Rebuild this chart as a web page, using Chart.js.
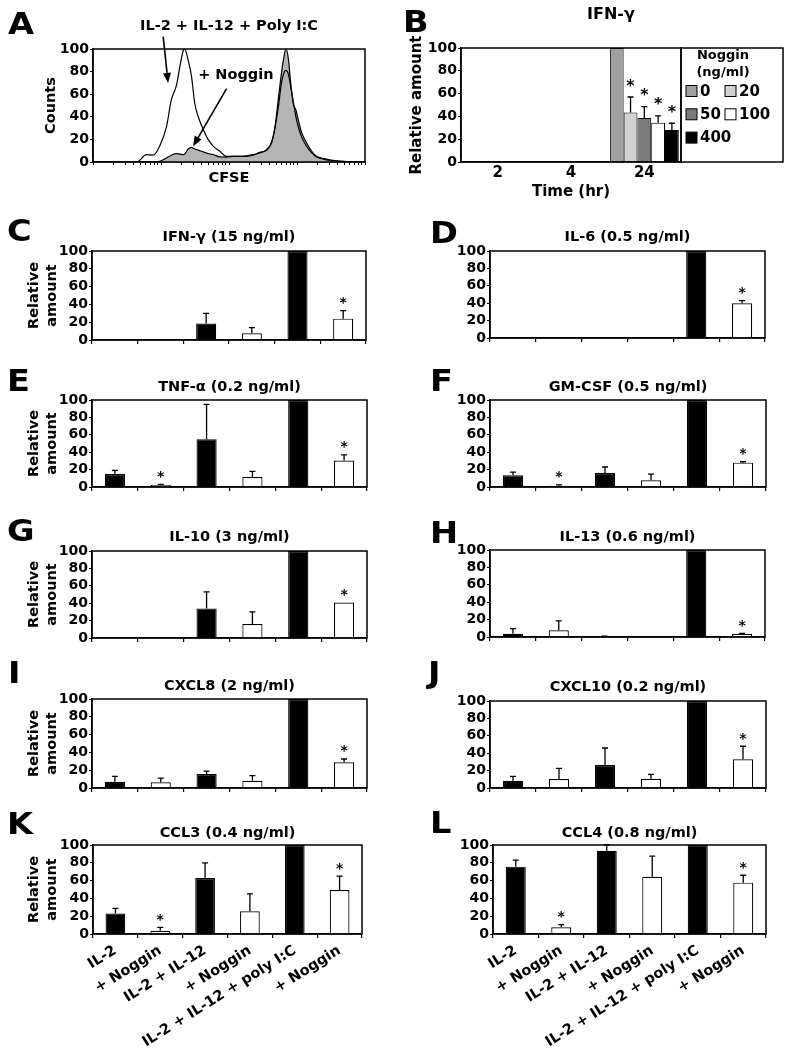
<!DOCTYPE html>
<html>
<head>
<meta charset="utf-8">
<script src="https://cdn.jsdelivr.net/npm/chart.js@4.4.1/dist/chart.umd.min.js"></script>
<style>
html, body { margin: 0; padding: 0; background: #fff; }
#fig { position: relative; width: 786px; height: 1048px; overflow: hidden; font-family: 'DejaVu Sans', sans-serif; }
.letter { position: absolute; font-weight: bold; font-size: 30px; line-height: 30px; color: #000; transform: scaleX(1.12); transform-origin: 0 0; }
</style>
</head>
<body>
<div id="fig"></div>
<script>
// ---- Panel A: CFSE histogram (x = channel, y = % of max) ----
const cfseChannel = [0, 150, 166, 196, 221, 245, 270, 288, 307, 319, 331, 337, 350, 362, 374, 387, 405, 423, 442, 466,
  491, 515, 540, 564, 589, 613, 638, 656, 669, 681, 693, 702, 709, 718, 726, 736, 746, 755, 767, 785,
  804, 822, 847, 871, 896, 933, 1000];
const countsPolyIC = [0, 0, 0.5, 6.5, 6, 14, 31, 55, 68, 84, 98, 100, 90, 76, 52, 40, 29, 20, 14, 9.5,
  5, 5, 5, 5.5, 6.5, 8, 11, 17, 30, 48, 70, 79, 81, 78, 68, 54, 40, 31, 22, 14,
  8, 4.5, 2.6, 1.5, 1, 0.3, 0];
const countsNoggin = [0, 0, 0, 0, 0, 0.5, 3.5, 6, 7.4, 7, 6.5, 7, 11.5, 13, 11.5, 10.5, 9, 7.5, 6.5, 4.5,
  4.4, 5, 5, 5, 6, 8.5, 10.3, 17, 31, 55, 79, 93, 100, 92, 72, 52, 46, 37, 26, 17,
  9.5, 5, 3.2, 2, 0.9, 0.3, 0];
// annotation anchors, in data units (channel, counts)
const arrowPolyIC = { from: [258, 111], to: [276, 70] };
const arrowNoggin = { from: [491, 65], to: [368, 14] };
const nogginNote = [525, 77];

// ---- Panel B: IFN-γ vs Noggin dose ----
const timeLabels = ['2', '4', '24'];
const nogginDoses = ['0', '20', '50', '100', '400'];
const doseFill = ['#a0a0a0', '#d2d2d2', '#7a7a7a', '#ffffff', '#000000'];
const ifngDoseMean = [100, 43.5, 38.5, 34.5, 28];
const ifngDoseSd = [0, 13.5, 10, 6, 6];
const ifngDoseStar = [0, 1, 1, 1, 1];

// ---- Panels C–L ----
const conditions = ['IL-2', '+ Noggin', 'IL-2 + IL-12', '+ Noggin', 'IL-2 + IL-12 + poly I:C', '+ Noggin'];
const conditionFill = ['#000000', '#ffffff', '#000000', '#ffffff', '#000000', '#ffffff'];

const ifngMean = [0.3, 0.3, 18.5, 7.5, 100, 24];
const ifngSd = [0, 0, 11.5, 6.5, 0, 9];
const ifngStar = [0, 0, 0, 0, 0, 1];
const il6Mean = [0.3, 0.3, 0.3, 0.3, 100, 40];
const il6Sd = [0, 0, 0, 0, 0, 3];
const il6Star = [0, 0, 0, 0, 0, 1];
const tnfMean = [15, 2.3, 55, 11.5, 100, 30.5];
const tnfSd = [4, 0.7, 40, 6.5, 0, 6.5];
const tnfStar = [0, 1, 0, 0, 0, 1];
const gmcsfMean = [13.5, 1.5, 16, 7.7, 100, 28];
const gmcsfSd = [3.5, 1, 7, 7, 0, 1];
const gmcsfStar = [0, 1, 0, 0, 0, 1];
const il10Mean = [0.3, 0.3, 34, 16, 100, 40.7];
const il10Sd = [0, 0, 19, 14, 0, 0];
const il10Star = [0, 0, 0, 0, 0, 1];
const il13Mean = [3.8, 7.7, 0.5, 0, 100, 3.8];
const il13Sd = [5.8, 10.8, 0.5, 0, 0, 0.3];
const il13Star = [0, 0, 0, 0, 0, 1];
const cxcl8Mean = [7, 6.4, 15.7, 8.2, 100, 29];
const cxcl8Sd = [6, 4.6, 3.3, 5.8, 0, 3.6];
const cxcl8Star = [0, 0, 0, 0, 0, 1];
const cxcl10Mean = [8.4, 10.3, 26.3, 10.7, 100, 33];
const cxcl10Sd = [5, 12.2, 19.7, 4.9, 0, 15];
const cxcl10Star = [0, 0, 0, 0, 0, 1];
const ccl3Mean = [23, 3.7, 63, 25.5, 100, 49.4];
const ccl3Sd = [5.8, 3.8, 17, 19.5, 0, 15.6];
const ccl3Star = [0, 1, 0, 0, 0, 1];
const ccl4Mean = [75.7, 7.5, 93.6, 64.4, 100, 57.7];
const ccl4Sd = [7.3, 3, 6.4, 23.2, 0, 8.3];
const ccl4Star = [0, 1, 0, 0, 0, 1];

const FONT = "'DejaVu Sans', sans-serif";
Chart.defaults.font.family = FONT;
Chart.defaults.font.weight = 'bold';
Chart.defaults.color = '#000';

const fig = document.getElementById('fig');

function addCanvas(left, top, width, height) {
    const c = document.createElement('canvas');
    c.width = width;
    c.height = height;
    c.style.cssText = `position:absolute;left:${left}px;top:${top}px;width:${width}px;height:${height}px`;
    fig.appendChild(c);
    return c;
}

// box round the plot area
const plotFrame = {
    id: 'plotFrame',
    afterDatasetsDraw(chart) {
        const a = chart.chartArea, ctx = chart.ctx;
        ctx.save();
        ctx.strokeStyle = '#000';
        ctx.lineWidth = 1.5;
        ctx.strokeRect(a.left, a.top, a.right - a.left, a.bottom - a.top);
        ctx.restore();
    }
};

// upper error bars + asterisks, read from dataset.sd / dataset.star
const errorBars = {
    id: 'errorBars',
    afterDatasetsDraw(chart, args, opts) {
        const ctx = chart.ctx, y = chart.scales.y;
        ctx.save();
        ctx.strokeStyle = '#000';
        ctx.fillStyle = '#000';
        ctx.lineWidth = 1.3;
        ctx.font = `bold ${opts.starSize || 14}px ${FONT}`;
        ctx.textAlign = 'center';
        ctx.textBaseline = 'alphabetic';
        chart.data.datasets.forEach((ds, di) => {
            const meta = chart.getDatasetMeta(di);
            meta.data.forEach((bar, i) => {
                const v = ds.data[i];
                if (v == null) return;
                const sd = (ds.sd && ds.sd[i]) || 0;
                const topPx = y.getPixelForValue(v + sd);
                if (sd > 0) {
                    ctx.beginPath();
                    ctx.moveTo(bar.x, bar.y);
                    ctx.lineTo(bar.x, topPx);
                    ctx.moveTo(bar.x - 3, topPx);
                    ctx.lineTo(bar.x + 3, topPx);
                    ctx.stroke();
                }
                if (ds.star && ds.star[i]) {
                    ctx.fillText('*', bar.x, topPx - (opts.starGap || 3.5));
                }
            });
        });
        ctx.restore();
    }
};

function drawArrow(ctx, x1, y1, x2, y2) {
    const ang = Math.atan2(y2 - y1, x2 - x1);
    const len = 10, half = 4;
    const bx = x2 - len * Math.cos(ang), by = y2 - len * Math.sin(ang);
    ctx.beginPath();
    ctx.moveTo(x1, y1);
    ctx.lineTo(bx, by);
    ctx.stroke();
    ctx.beginPath();
    ctx.moveTo(x2, y2);
    ctx.lineTo(bx + half * Math.sin(ang), by - half * Math.cos(ang));
    ctx.lineTo(bx - half * Math.sin(ang), by + half * Math.cos(ang));
    ctx.closePath();
    ctx.fill();
}

const histNotes = {
    id: 'histNotes',
    afterDraw(chart) {
        const { ctx, scales: { x, y } } = chart;
        ctx.save();
        ctx.strokeStyle = '#000';
        ctx.fillStyle = '#000';
        ctx.lineWidth = 1.6;
        [arrowPolyIC, arrowNoggin].forEach(a => {
            drawArrow(ctx, x.getPixelForValue(a.from[0]), y.getPixelForValue(a.from[1]),
                x.getPixelForValue(a.to[0]), y.getPixelForValue(a.to[1]));
        });
        ctx.font = `bold 14.5px ${FONT}`;
        ctx.textAlign = 'center';
        ctx.textBaseline = 'middle';
        ctx.fillText('+ Noggin', x.getPixelForValue(nogginNote[0]), y.getPixelForValue(nogginNote[1]));
        ctx.restore();
    }
};

const yTicks = { stepSize: 20, autoSkip: false, padding: 1, font: { size: 14, weight: 'bold' } };
const textFont = { size: 14.5, weight: 'bold', lineHeight: '18px' };

// ---- A ----
(function () {
    const canvas = addCanvas(0, 11, 393, 184);
    new Chart(canvas, {
        type: 'line',
        data: {
            datasets: [
                {
                    label: 'IL-2 + IL-12 + Poly I:C',
                    data: cfseChannel.map((c, i) => ({ x: c, y: countsPolyIC[i] })),
                    borderColor: '#000',
                    borderWidth: 1.2,
                    fill: false,
                    pointRadius: 0,
                    cubicInterpolationMode: 'monotone'
                },
                {
                    label: '+ Noggin',
                    data: cfseChannel.map((c, i) => ({ x: c, y: countsNoggin[i] })),
                    borderColor: '#000',
                    borderWidth: 1.2,
                    backgroundColor: '#b4b4b4',
                    fill: 'origin',
                    pointRadius: 0,
                    cubicInterpolationMode: 'monotone'
                }
            ]
        },
        options: {
            responsive: false,
            animation: false,
            devicePixelRatio: 1,
            layout: { padding: { left: 0, right: 28, top: 0, bottom: 0 } },
            plugins: {
                legend: { display: false },
                tooltip: { enabled: false },
                title: {
                    display: true, fullSize: false, text: 'IL-2 + IL-12 + Poly I:C', color: '#000',
                    font: textFont,
                    padding: { top: 6, bottom: 14 }
                }
            },
            scales: {
                x: {
                    type: 'linear', min: 0, max: 1000,
                    afterBuildTicks: s => {
                        const t = [];
                        for (let d = 0; d < 4; d++) {
                            for (let m = 1; m < 10; m++) t.push({ value: 250 * (d + Math.log10(m)) });
                        }
                        t.push({ value: 1000 });
                        s.ticks = t;
                    },
                    ticks: { callback: () => '', autoSkip: false },
                    grid: { drawOnChartArea: false, tickLength: 3, color: '#000' },
                    border: { color: '#000', width: 1.5 },
                    title: {
                        display: true, text: 'CFSE', color: '#000',
                        font: textFont,
                        padding: { top: 0, bottom: 8 }
                    },
                    afterFit: s => { s.height = 33; }
                },
                y: {
                    min: 0, max: 100,
                    ticks: yTicks,
                    grid: { drawOnChartArea: false, tickLength: 3, color: '#000' },
                    border: { color: '#000', width: 1.5 },
                    title: {
                        display: true, text: 'Counts', color: '#000',
                        font: textFont,
                        padding: { top: 42, bottom: 0 }
                    },
                    afterFit: s => { s.width = 93; }
                }
            }
        },
        plugins: [plotFrame, histNotes]
    });
})();

// ---- B ----
const doseLegend = {
    id: 'doseLegend',
    afterDraw(chart) {
        const { ctx, chartArea: a } = chart;
        const x0 = a.right, w = 102;
        ctx.save();
        ctx.strokeStyle = '#000';
        ctx.lineWidth = 1.5;
        ctx.strokeRect(x0, a.top, w, a.bottom - a.top);
        ctx.fillStyle = '#000';
        ctx.textAlign = 'center';
        ctx.textBaseline = 'middle';
        ctx.font = `bold 16px ${FONT}`;
        ctx.fillText('IFN-γ', a.left + 150, 15);
        ctx.font = `bold 13px ${FONT}`;
        ctx.fillText('Noggin', x0 + 42, a.top + 8);
        ctx.fillText('(ng/ml)', x0 + 42, a.top + 25);
        ctx.font = `bold 15px ${FONT}`;
        ctx.textAlign = 'left';
        ctx.lineWidth = 1;
        chart.data.datasets.forEach((ds, i) => {
            const col = i % 2, row = Math.floor(i / 2);
            const sx = x0 + 5 + col * 39, sy = a.top + 43 + row * 23.3;
            ctx.fillStyle = ds.backgroundColor;
            ctx.fillRect(sx, sy - 5.5, 11, 11);
            ctx.strokeRect(sx, sy - 5.5, 11, 11);
            ctx.fillStyle = '#000';
            ctx.fillText(ds.label, sx + 14, sy + 1);
        });
        ctx.restore();
    }
};

(function () {
    const canvas = addCanvas(393, 0, 393, 210);
    new Chart(canvas, {
        type: 'bar',
        data: {
            labels: timeLabels,
            datasets: nogginDoses.map((dose, k) => ({
                label: dose,
                data: timeLabels.map((t, i) => (i === timeLabels.length - 1 ? ifngDoseMean[k] : null)),
                sd: timeLabels.map((t, i) => (i === timeLabels.length - 1 ? ifngDoseSd[k] : 0)),
                star: timeLabels.map((t, i) => (i === timeLabels.length - 1 ? ifngDoseStar[k] : 0)),
                backgroundColor: doseFill[k],
                borderColor: '#000',
                borderWidth: 1,
                categoryPercentage: 0.94,
                barPercentage: 1
            }))
        },
        options: {
            responsive: false,
            animation: false,
            devicePixelRatio: 1,
            layout: { padding: { left: 0, right: 105, top: 48, bottom: 0 } },
            plugins: {
                legend: { display: false },
                tooltip: { enabled: false },
                title: { display: false },
                errorBars: { starGap: 6.5, starSize: 16 }
            },
            scales: {
                x: {
                    grid: { display: false, drawTicks: false },
                    border: { color: '#000', width: 1.5 },
                    ticks: { padding: 2, font: { size: 15, weight: 'bold' } },
                    title: {
                        display: true, text: 'Time (hr)', color: '#000',
                        font: { size: 15, weight: 'bold', lineHeight: '20px' },
                        padding: { top: 0, bottom: 8 }
                    },
                    afterFit: s => { s.height = 48; }
                },
                y: {
                    min: 0, max: 100,
                    ticks: { stepSize: 20, autoSkip: false, padding: 1, font: { size: 14, weight: 'bold' } },
                    grid: { drawOnChartArea: false, tickLength: 3, color: '#000' },
                    border: { color: '#000', width: 1.5 },
                    title: {
                        display: true, text: 'Relative amount', color: '#000',
                        font: { size: 15, weight: 'bold', lineHeight: '20px' },
                        padding: { top: 14, bottom: 0 }
                    },
                    afterFit: s => { s.width = 68; }
                }
            }
        },
        plugins: [plotFrame, errorBars, doseLegend]
    });
})();

// ---- C–L ----
const panels = [
    { letter: 'C', title: 'IFN-γ (15 ng/ml)', mean: ifngMean, sd: ifngSd, star: ifngStar, titleY: 237, box: [92, 251, 366, 340], yTitle: true },
    { letter: 'D', title: 'IL-6 (0.5 ng/ml)', mean: il6Mean, sd: il6Sd, star: il6Star, titleY: 237, box: [490, 251, 765, 338] },
    { letter: 'E', title: 'TNF-α (0.2 ng/ml)', mean: tnfMean, sd: tnfSd, star: tnfStar, titleY: 387, box: [92, 400, 367, 487], yTitle: true },
    { letter: 'F', title: 'GM-CSF (0.5 ng/ml)', mean: gmcsfMean, sd: gmcsfSd, star: gmcsfStar, titleY: 387, box: [490, 400, 766, 487] },
    { letter: 'G', title: 'IL-10 (3 ng/ml)', mean: il10Mean, sd: il10Sd, star: il10Star, titleY: 537, box: [92, 551, 367, 638], yTitle: true },
    { letter: 'H', title: 'IL-13 (0.6 ng/ml)', mean: il13Mean, sd: il13Sd, star: il13Star, titleY: 537, box: [490, 550, 765, 637] },
    { letter: 'I', title: 'CXCL8 (2 ng/ml)', mean: cxcl8Mean, sd: cxcl8Sd, star: cxcl8Star, titleY: 686, box: [92, 699, 367, 788], yTitle: true },
    { letter: 'J', title: 'CXCL10 (0.2 ng/ml)', mean: cxcl10Mean, sd: cxcl10Sd, star: cxcl10Star, titleY: 687, box: [490, 701, 766, 788] },
    { letter: 'K', title: 'CCL3 (0.4 ng/ml)', mean: ccl3Mean, sd: ccl3Sd, star: ccl3Star, titleY: 833, box: [93, 845, 362, 934], yTitle: true, labels: true },
    { letter: 'L', title: 'CCL4 (0.8 ng/ml)', mean: ccl4Mean, sd: ccl4Sd, star: ccl4Star, titleY: 833, box: [493, 845, 766, 934], labels: true }
];

panels.forEach(p => {
    const [left, top, right, bottom] = p.box;
    const colX = left < 393 ? 0 : 393;
    const cTop = p.titleY - 15;
    const xh = p.labels ? 1048 - bottom : 14;
    const cHeight = bottom + xh - cTop;
    const canvas = addCanvas(colX, cTop, 393, cHeight);
    new Chart(canvas, {
        type: 'bar',
        data: {
            labels: conditions,
            datasets: [{
                data: p.mean,
                sd: p.sd,
                star: p.star,
                backgroundColor: conditionFill,
                borderColor: '#000',
                borderWidth: 1.2,
                categoryPercentage: 1,
                barPercentage: 0.44
            }]
        },
        options: {
            responsive: false,
            animation: false,
            devicePixelRatio: 1,
            layout: { padding: { left: 0, right: colX + 393 - right, top: 0, bottom: 0 } },
            plugins: {
                legend: { display: false },
                tooltip: { enabled: false },
                title: {
                    display: true, fullSize: false, text: p.title, color: '#000',
                    font: textFont,
                    padding: { top: 6, bottom: top - p.titleY - 9 }
                },
                errorBars: { starGap: 3.5, starSize: 14 }
            },
            scales: {
                x: {
                    grid: { drawOnChartArea: false, tickLength: 4, color: '#000', lineWidth: 1.2 },
                    border: { color: '#000', width: 1.5 },
                    ticks: {
                        display: !!p.labels, autoSkip: false, minRotation: 32, maxRotation: 32, padding: 4,
                        font: { size: 14.5, weight: 'bold' }
                    },
                    afterFit: s => { s.height = xh; }
                },
                y: {
                    min: 0, max: 100,
                    ticks: yTicks,
                    grid: { drawOnChartArea: false, tickLength: 3, color: '#000' },
                    border: { color: '#000', width: 1.5 },
                    title: {
                        display: !!p.yTitle, text: ['Relative', 'amount'], color: '#000',
                        font: textFont,
                        padding: { top: 25, bottom: 0 }
                    },
                    afterFit: s => { s.width = left - colX; }
                }
            }
        },
        plugins: [plotFrame, errorBars]
    });
});

// panel letters
const letterPos = [
    ['A', 8, 9], ['B', 403, 7], ['C', 7, 216], ['D', 430, 218], ['E', 7, 366], ['F', 430, 366],
    ['G', 7, 516], ['H', 430, 518], ['I', 8, 658], ['J', 428, 658], ['K', 7, 809], ['L', 430, 808]
];
letterPos.forEach(([t, x, y]) => {
    const d = document.createElement('div');
    d.className = 'letter';
    d.textContent = t;
    d.style.left = x + 'px';
    d.style.top = y + 'px';
    fig.appendChild(d);
});
</script>
</body>
</html>
